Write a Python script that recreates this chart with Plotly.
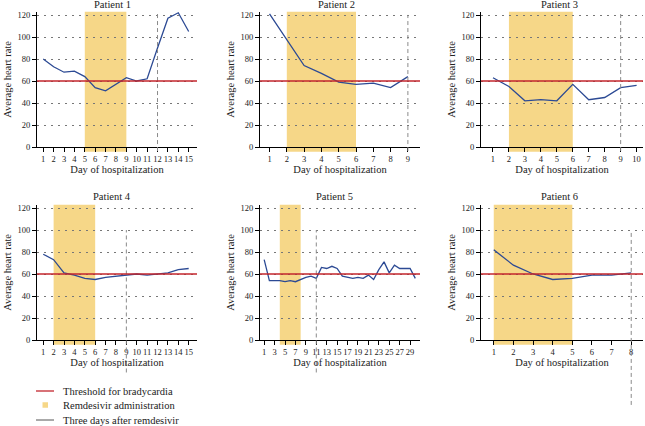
import plotly.graph_objects as go

# ---------------- data ----------------
days_p1 = list(range(1, 16))
hr_p1 = [80, 73, 68, 69, 64, 54, 51, 57, 63, 60, 62, 90, 117, 122, 105]
days_p2 = list(range(1, 10))
hr_p2 = [121, 98, 74, 67, 59, 57, 58, 54, 64]
days_p3 = list(range(1, 11))
hr_p3 = [63, 55, 42, 43, 42, 57, 43, 45, 54, 56]
days_p4 = list(range(1, 16))
hr_p4 = [78, 73, 61, 59, 56, 55, 57, 58, 59, 60, 59, 60, 61, 64, 65]
days_p5 = list(range(1, 31))
hr_p5 = [73, 54, 54, 54, 53, 54, 53, 55, 57, 58, 56, 66, 65, 67, 65, 58, 57, 56, 57, 56,
         59, 55, 64, 71, 61, 68, 65, 65, 65, 56]
days_p6 = list(range(1, 9))
hr_p6 = [82, 68, 60, 55, 56, 59, 59, 61]

patients = ["Patient 1", "Patient 2", "Patient 3", "Patient 4", "Patient 5", "Patient 6"]
remdesivir_start = [5, 2, 2, 2, 4, 1]
remdesivir_end = [9, 6, 6, 6, 8, 5]
three_days_after = [12, 9, 9, 9, 11, 8]
threshold = 60
y_ticks = [0, 20, 40, 60, 80, 100, 120]
legend_labels = ["Threshold for bradycardia", "Remdesivir administration", "Three days after remdesivir"]

all_days = [days_p1, days_p2, days_p3, days_p4, days_p5, days_p6]
all_hr = [hr_p1, hr_p2, hr_p3, hr_p4, hr_p5, hr_p6]

# ---------------- layout ----------------
W, H = 645, 426
FONT = "Liberation Serif"
RED = "#c3262d"
BLUE = "#2c4a94"
SHADE = "#f6d788"
GRAY = "#8a8a8a"
TXT = "#222222"

col_px = [(37, 197), (260, 420), (481, 643)]
row_px = [(11.7, 147), (204.7, 340)]  # top, bottom pixel
x_ranges = [[0.4, 15.8], [0.45, 9.7], [0.25, 10.4], [0.4, 15.8], [0.2, 30.9], [0.35, 8.6]]
title_px = [(112, 5), (336, 5), (559, 5), (112, 196), (334, 196), (559, 196)]
dash_ext = [(-0.03, 1.0), (-0.03, 0.976), (-0.03, 1.0), (-0.24, 0.813), (-0.24, 0.813), (-0.48, 0.813)]

fig = go.Figure()
shapes = []
annotations = []

for i in range(6):
    r, c = divmod(i, 3)
    n = i + 1
    xa = "x" if n == 1 else f"x{n}"
    ya = "y" if n == 1 else f"y{n}"
    fig.add_trace(go.Scatter(
        x=all_days[i], y=all_hr[i], mode="lines",
        line=dict(color=BLUE, width=1.3), xaxis=xa, yaxis=ya, showlegend=False,
    ))
    x0p, x1p = col_px[c]
    t, b = row_px[r]
    tv = list(range(1, 30, 2)) if n == 5 else all_days[i]
    ax_common = dict(
        showline=True, linecolor="black", linewidth=1.2,
        ticks="outside", ticklen=4, tickcolor="black", tickwidth=1,
        tickfont=dict(family=FONT, size=8.5, color=TXT),
        zeroline=False, automargin=False,
    )
    fig.layout[("xaxis" if n == 1 else f"xaxis{n}")] = dict(
        domain=[x0p / W, x1p / W], anchor=ya, range=x_ranges[i],
        tickvals=tv, tickangle=0, showgrid=False,
        title=dict(text="Day of hospitalization", font=dict(family=FONT, size=10.5, color=TXT), standoff=1),
        **ax_common,
    )
    fig.layout[("yaxis" if n == 1 else f"yaxis{n}")] = dict(
        domain=[(H - b) / H, (H - t) / H], anchor=xa, range=[0, 123],
        tickvals=y_ticks, showgrid=True, gridcolor="#777777", griddash="1.5px,5.5px", gridwidth=1.2,
        title=dict(text="Average heart rate", font=dict(family=FONT, size=10.5, color=TXT), standoff=3),
        **ax_common,
    )
    # remdesivir shading
    shapes.append(dict(type="rect", xref=xa, yref=f"{ya} domain",
                       x0=remdesivir_start[i], x1=remdesivir_end[i], y0=-0.035, y1=1.0,
                       fillcolor=SHADE, line=dict(width=0), layer="below"))
    # three days after
    y0d, y1d = dash_ext[i]
    shapes.append(dict(type="line", xref=xa, yref=f"{ya} domain",
                       x0=three_days_after[i], x1=three_days_after[i], y0=y0d, y1=y1d,
                       line=dict(color=GRAY, width=1, dash="4px,3px")))
    # threshold
    shapes.append(dict(type="line", xref=f"{xa} domain", yref=ya,
                       x0=0, x1=1, y0=threshold, y1=threshold,
                       line=dict(color=RED, width=1.5)))
    tx, ty = title_px[i]
    annotations.append(dict(text=patients[i], x=tx / W, y=(H - ty) / H, xref="paper", yref="paper",
                            showarrow=False, xanchor="center", yanchor="middle",
                            font=dict(family=FONT, size=10.5, color=TXT)))

# manual legend
leg_y = [391, 405, 420]
shapes.append(dict(type="line", xref="paper", yref="paper", x0=36 / W, x1=54 / W,
                   y0=(H - leg_y[0]) / H, y1=(H - leg_y[0]) / H, line=dict(color=RED, width=1.3)))
shapes.append(dict(type="rect", xref="paper", yref="paper", x0=42.5 / W, x1=48 / W,
                   y0=(H - leg_y[1] - 2.75) / H, y1=(H - leg_y[1] + 2.75) / H,
                   fillcolor=SHADE, line=dict(width=0)))
shapes.append(dict(type="line", xref="paper", yref="paper", x0=36 / W, x1=54 / W,
                   y0=(H - leg_y[2]) / H, y1=(H - leg_y[2]) / H, line=dict(color="#555555", width=1)))
for k in range(3):
    annotations.append(dict(text=legend_labels[k], x=61 / W, y=(H - leg_y[k]) / H,
                            xref="paper", yref="paper", showarrow=False,
                            xanchor="left", yanchor="middle",
                            font=dict(family=FONT, size=10.5, color=TXT)))

fig.update_layout(
    width=W, height=H, margin=dict(l=0, r=0, t=0, b=0),
    paper_bgcolor="white", plot_bgcolor="white",
    shapes=shapes, annotations=annotations, showlegend=False,
)

fig.write_html("out.html", config={"displayModeBar": False},
               post_script="document.body.style.margin='0';")
